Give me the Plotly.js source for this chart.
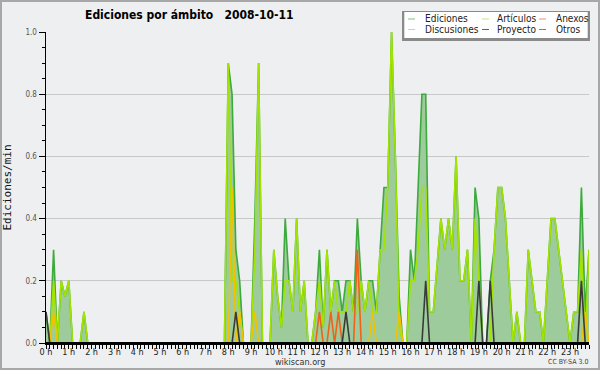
<!DOCTYPE html>
<html>
<head>
<meta charset="utf-8">
<script src="https://cdn.plot.ly/plotly-3.0.1.min.js"></script>
<style>
  html, body { margin: 0; padding: 0; background: #eeeff0; }
  #chart { position: absolute; left: 0; top: 0; width: 600px; height: 370px; }
</style>
</head>
<body>
<div id="chart"></div>
<script>
// 10-minute slots of 2008-10-11 (144 slots)
const day = '2008-10-11';
const slots = [];
for (let h = 0; h < 24; h++) {
  for (let m = 0; m < 60; m += 10) {
    slots.push(day + ' ' + String(h).padStart(2, '0') + ':' + String(m).padStart(2, '0'));
  }
}

// edits per minute, each row = 2 hours (12 slots)
const ediciones = [
  0.1,0,0.3,0,0.2,0.15,0.2,0,0,0,0.1,0,
  0,0,0,0,0,0,0,0,0,0,0,0,
  0,0,0,0,0,0,0,0,0,0,0,0,
  0,0,0,0,0,0,0,0,0,0,0,0,
  0.9,0.8,0.3,0.2,0,0,0,0.4,0.9,0,0,0,
  0.3,0.15,0.05,0.4,0.2,0.1,0.4,0.1,0.2,0,0,0.1,
  0.3,0.05,0.3,0.1,0.2,0.2,0.1,0.2,0.2,0.1,0.4,0.2,
  0.1,0.2,0.2,0.1,0.3,0.5,0.5,1.0,0.6,0.15,0,0,
  0.3,0.2,0.5,0.8,0.8,0.1,0.1,0.25,0.4,0.3,0.4,0.3,
  0.6,0.2,0.2,0.3,0,0.5,0.4,0,0,0.2,0.3,0.5,
  0.5,0.4,0.2,0,0.1,0,0,0.3,0.2,0.1,0.1,0,
  0.2,0.4,0.4,0.3,0.2,0.1,0,0.1,0.1,0.5,0.1,0.3
];
const articulos = [
  0,0,0.2,0,0.2,0.15,0.2,0,0,0,0.1,0,
  0,0,0,0,0,0,0,0,0,0,0,0,
  0,0,0,0,0,0,0,0,0,0,0,0,
  0,0,0,0,0,0,0,0,0,0,0,0,
  0.9,0.2,0.2,0.1,0,0,0,0.3,0.9,0,0,0,
  0.3,0.15,0.05,0.2,0.2,0.1,0.4,0.1,0.2,0,0,0.1,
  0.2,0.05,0.3,0.1,0.2,0.1,0.1,0.1,0.2,0.1,0.1,0.2,
  0.1,0.2,0.1,0.1,0.3,0.3,0.5,1.0,0.6,0.05,0,0,
  0.2,0.2,0.3,0.5,0.5,0.1,0.1,0.25,0.4,0.3,0.4,0.3,
  0.6,0.2,0.2,0.3,0,0.4,0.2,0,0,0,0.3,0.5,
  0.5,0.4,0.2,0,0.1,0,0,0.3,0.2,0.1,0.1,0,
  0.2,0.4,0.4,0.3,0.2,0.1,0,0.1,0.1,0.3,0,0.3
];
const anexos = [
  0,0,0,0,0,0,0,0,0,0,0,0,
  0,0,0,0,0,0,0,0,0,0,0,0,
  0,0,0,0,0,0,0,0,0,0,0,0,
  0,0,0,0,0,0,0,0,0,0,0,0,
  0,0,0,0,0,0,0,0,0,0,0,0,
  0,0,0,0,0,0,0,0,0,0,0,0,
  0.1,0,0,0.1,0,0.1,0,0,0,0,0.3,0,
  0,0,0,0,0,0,0,0,0,0,0,0,
  0,0,0,0,0,0,0,0,0,0,0,0,
  0,0,0,0,0,0,0,0,0,0,0,0,
  0,0,0,0,0,0,0,0,0,0,0,0,
  0,0,0,0,0,0,0,0,0,0,0,0
];
const discusiones = [
  0,0,0.1,0,0,0,0,0,0,0,0,0,
  0,0,0,0,0,0,0,0,0,0,0,0,
  0,0,0,0,0,0,0,0,0,0,0,0,
  0,0,0,0,0,0,0,0,0,0,0,0,
  0,0.5,0,0.1,0,0,0,0.1,0,0,0,0,
  0,0,0,0,0,0,0,0,0,0,0,0,
  0,0,0,0,0,0,0,0,0,0,0,0,
  0,0,0.1,0,0,0,0,0,0,0.1,0,0,
  0,0,0,0,0,0,0,0,0,0,0,0,
  0,0,0,0,0,0,0,0,0,0,0,0,
  0,0,0,0,0,0,0,0,0,0,0,0,
  0,0,0,0,0,0,0,0,0,0,0.1,0
];
const proyecto = [
  0.1,0,0,0,0,0,0,0,0,0,0,0,
  0,0,0,0,0,0,0,0,0,0,0,0,
  0,0,0,0,0,0,0,0,0,0,0,0,
  0,0,0,0,0,0,0,0,0,0,0,0,
  0,0,0.1,0,0,0,0,0,0,0,0,0,
  0,0,0,0,0,0,0,0,0,0,0,0,
  0,0,0,0,0,0,0,0.1,0,0,0,0,
  0,0,0,0,0,0,0,0,0,0,0,0,
  0,0,0,0,0.2,0,0,0,0,0,0,0,
  0,0,0,0,0,0,0.2,0,0,0.2,0,0,
  0,0,0,0,0,0,0,0,0,0,0,0,
  0,0,0,0,0,0,0,0,0,0.2,0,0
];
const otros = [
  0,0,0,0,0,0,0,0,0,0,0,0,
  0,0,0,0,0,0,0,0,0,0,0,0,
  0,0,0,0,0,0,0,0,0,0,0,0,
  0,0,0,0,0,0,0,0,0,0,0,0,
  0,0,0,0,0,0,0,0,0,0,0,0,
  0,0,0,0,0,0,0,0,0,0,0,0,
  0,0,0,0,0,0,0,0,0,0,0,0,
  0,0,0,0,0,0,0,0,0,0,0,0,
  0,0,0,0,0,0,0,0,0,0,0,0,
  0,0,0,0,0,0,0,0,0,0,0,0,
  0,0,0,0,0,0,0,0,0,0,0,0,
  0,0,0,0,0,0,0,0,0,0,0,0
];

const hourTicks = ['00:00','01:00','02:00','03:00','04:00','05:00','06:00','07:00','08:00','09:00','10:00','11:00',
                   '12:00','13:00','14:00','15:00','16:00','17:00','18:00','19:00','20:00','21:00','22:00','23:00'];
const hourLabels = ['0 h','1 h','2 h','3 h','4 h','5 h','6 h','7 h','8 h','9 h','10 h','11 h',
                    '12 h','13 h','14 h','15 h','16 h','17 h','18 h','19 h','20 h','21 h','22 h','23 h'];
const yTicks = [0, 0.2, 0.4, 0.6, 0.8, 1.0];

const FONT = '"DejaVu Sans Condensed", "DejaVu Sans", sans-serif';

const series = [
  {name: 'Otros',       y: otros,       color: '#9a40e0', legend: 6},
  {name: 'Ediciones',   y: ediciones,   color: '#3caa3c', legend: 1, fill: true},
  {name: 'Artículos',   y: articulos,   color: '#a2e400', legend: 2},
  {name: 'Discusiones', y: discusiones, color: '#f2c200', legend: 4},
  {name: 'Anexos',      y: anexos,      color: '#f0621a', legend: 3},
  {name: 'Proyecto',    y: proyecto,    color: '#3a3a3a', legend: 5}
];

const traces = series.map(s => ({
  type: 'scatter', mode: 'lines', name: s.name,
  x: slots, y: s.y,
  line: {color: s.color, width: 1.6},
  fill: s.fill ? 'tozeroy' : 'none',
  fillcolor: '#9ecb9c',
  legendrank: s.legend,
  hoverinfo: 'skip'
}));

// plot area in pixels
const L = 46, R = 589, T = 32, B = 343;
const px = v => (v - L) / (R - L);
const py = v => (B - v) / (B - T);

const legendItems = [
  {name: 'Ediciones',   color: '#7cc87c', col: 0, row: 0},
  {name: 'Artículos',   color: '#c4ea70', col: 1, row: 0},
  {name: 'Anexos',      color: '#f09060', col: 2, row: 0},
  {name: 'Discusiones', color: '#f2d050', col: 0, row: 1},
  {name: 'Proyecto',    color: '#606060', col: 1, row: 1},
  {name: 'Otros',       color: '#a060e0', col: 2, row: 1}
];
const colX = [408, 482, 539];
const rowY = [19, 29.5];

const shapes = [
  // cover the zero baseline with the axis colour
  {type: 'line', xref: 'paper', yref: 'y', x0: 0, x1: 1, y0: 0, y1: 0,
   line: {color: '#000', width: 2}, layer: 'above'},
  // legend shadow + box
  {type: 'rect', xref: 'paper', yref: 'paper', x0: px(402), x1: px(590), y0: py(41), y1: py(11),
   fillcolor: '#8a8a8a', line: {width: 0}, layer: 'above'},
  {type: 'rect', xref: 'paper', yref: 'paper', x0: px(404.3), x1: px(587.7), y0: py(38), y1: py(12),
   fillcolor: '#ffffff', line: {width: 0}, layer: 'above'},
  // frame
  {type: 'rect', xref: 'paper', yref: 'paper', x0: px(1), x1: px(599), y0: py(369), y1: py(1),
   line: {color: '#a8a8a8', width: 2}, layer: 'above'}
];
const annotations = [];
legendItems.forEach(it => {
  shapes.push({type: 'line', xref: 'paper', yref: 'paper', layer: 'above',
    x0: px(colX[it.col]), x1: px(colX[it.col] + 7), y0: py(rowY[it.row]), y1: py(rowY[it.row]),
    line: {color: it.color, width: 1}});
  annotations.push({xref: 'paper', yref: 'paper', x: px(colX[it.col] + (it.col === 1 ? 13 : 15)), y: py(rowY[it.row]),
    xanchor: 'left', yanchor: 'middle', showarrow: false, text: it.name,
    font: {family: FONT, size: 10, color: '#222'}});
});
annotations.push({xref: 'paper', yref: 'paper', x: px(300), y: py(362), xanchor: 'center', yanchor: 'middle',
  showarrow: false, text: 'wikiscan.org', font: {family: FONT, size: 9, color: '#333'}});
annotations.push({xref: 'paper', yref: 'paper', x: px(590), y: py(362), xanchor: 'right', yanchor: 'middle',
  showarrow: false, text: 'CC BY-SA 3.0', font: {family: FONT, size: 7, color: '#444'}});

const layout = {
  width: 600, height: 370,
  margin: {l: L, r: 600 - R, t: T, b: 370 - B, pad: 0},
  paper_bgcolor: '#eeeff0', plot_bgcolor: '#eeeff0',
  showlegend: false,
  title: {text: '<b>Ediciones por ámbito\u00a0\u00a0 2008-10-11</b>', xref: 'container', yref: 'container',
          x: 85 / 600, xanchor: 'left', y: 1 - 15 / 370, yanchor: 'middle',
          font: {family: FONT, size: 12, color: '#000'}},
  xaxis: {
    type: 'date', range: [slots[0], slots[slots.length - 1]],
    tickmode: 'array', tickvals: hourTicks.map(t => day + ' ' + t), ticktext: hourLabels,
    ticks: 'outside', ticklen: 4, tickwidth: 1, tickcolor: '#000', ticklabelstandoff: -4,
    minor: {tickmode: 'linear', tick0: slots[0], dtick: 600000, ticks: 'outside', ticklen: 4, tickwidth: 1, tickcolor: '#000', showgrid: false},
    showline: true, linecolor: '#000', linewidth: 1.5, showgrid: false, zeroline: false,
    tickfont: {family: FONT, size: 9, color: '#222'}, fixedrange: true
  },
  yaxis: {
    range: [0, 1.0], tickmode: 'array', tickvals: yTicks, tickformat: '.1f',
    ticks: 'outside', ticklen: 6, tickwidth: 1, tickcolor: '#000',
    minor: {dtick: 0.05, ticks: 'outside', ticklen: 3, tickwidth: 1, tickcolor: '#000', showgrid: false},
    showline: true, linecolor: '#000', linewidth: 1.5, showgrid: true, gridcolor: '#c8c8c8', gridwidth: 1,
    zeroline: false,
    tickfont: {family: FONT, size: 8, color: '#555'},
    title: {text: 'Ediciones/min', standoff: 11, font: {family: 'DejaVu Sans Mono', size: 11, color: '#111'}},
    automargin: false, fixedrange: true
  },
  shapes: shapes,
  annotations: annotations
};

Plotly.newPlot('chart', traces, layout, {staticPlot: true, displayModeBar: false});
</script>
</body>
</html>
